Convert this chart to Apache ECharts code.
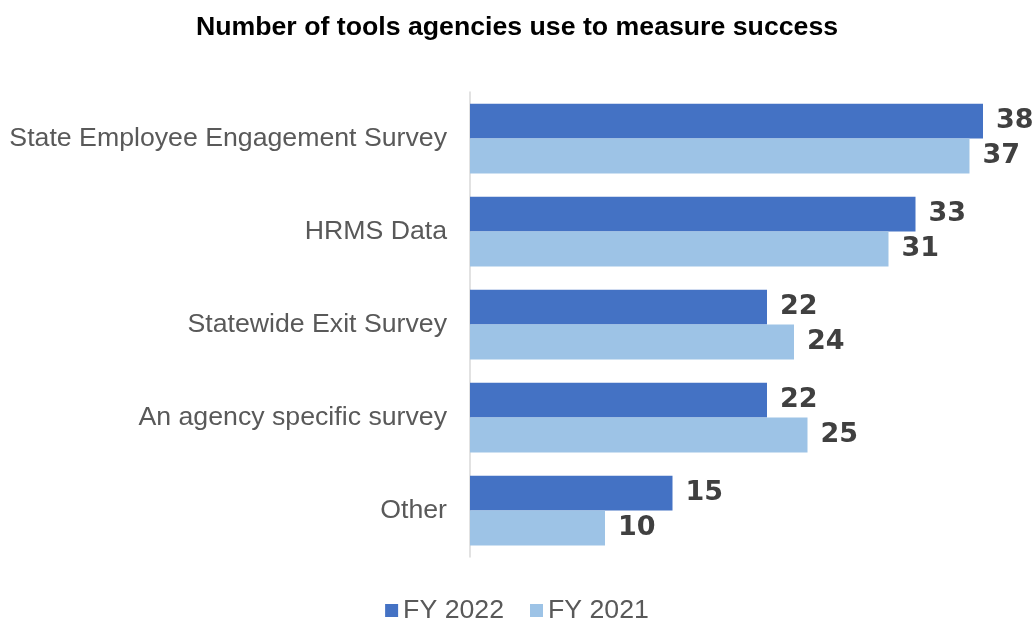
<!DOCTYPE html>
<html>
<head>
<meta charset="utf-8">
<script src="https://cdn.jsdelivr.net/npm/echarts@6/dist/echarts.min.js"></script>
<style>
  html, body { margin: 0; padding: 0; background: #ffffff; }
  #chart { width: 1034px; height: 619px; }
</style>
</head>
<body>
<div id="chart"></div>
<script>
// Survey tools used by agencies, counted per fiscal year
const categories = [
  'State Employee Engagement Survey',
  'HRMS Data',
  'Statewide Exit Survey',
  'An agency specific survey',
  'Other'
];
const fy2022 = [38, 33, 22, 22, 15];
const fy2021 = [37, 31, 24, 25, 10];
const seriesNames = ['FY 2022', 'FY 2021'];
const chartTitle = 'Number of tools agencies use to measure success';

const baseFont = '"Liberation Sans", Arial, sans-serif';

const valueLabel = {
  show: true,
  position: 'right',
  distance: 13,
  fontFamily: '"DejaVu Sans", sans-serif',
  fontWeight: 'bold',
  fontSize: 27,
  color: '#404040'
};

const chart = echarts.init(document.getElementById('chart'), null, { renderer: 'canvas' });
chart.setOption({
  animation: false,
  backgroundColor: '#ffffff',
  title: {
    text: chartTitle,
    left: 'center',
    top: 9,
    textStyle: {
      fontFamily: baseFont,
      fontSize: 26.7,
      fontWeight: 'bold',
      color: '#000000'
    }
  },
  legend: {
    data: seriesNames,
    left: 'center',
    top: 592,
    itemWidth: 13,
    itemHeight: 13,
    itemGap: 26,
    icon: 'rect',
    textStyle: {
      fontFamily: baseFont,
      fontSize: 26.7,
      color: '#595959'
    }
  },
  grid: {
    left: 470,
    right: 24,
    top: 92,
    height: 465,
    containLabel: false
  },
  xAxis: {
    type: 'value',
    min: 0,
    max: 40,
    show: false,
    splitLine: { show: false }
  },
  yAxis: {
    type: 'category',
    data: categories,
    inverse: true,
    axisLine: { show: true, lineStyle: { color: '#D9D9D9', width: 1.5 } },
    axisTick: { show: false },
    axisLabel: {
      fontFamily: baseFont,
      fontSize: 26.7,
      color: '#595959',
      margin: 23
    }
  },
  series: [
    {
      name: seriesNames[0],
      type: 'bar',
      data: fy2022,
      barGap: '0%',
      barCategoryGap: '25%',
      itemStyle: { color: '#4472C4' },
      label: valueLabel
    },
    {
      name: seriesNames[1],
      type: 'bar',
      data: fy2021,
      barGap: '0%',
      barCategoryGap: '25%',
      itemStyle: { color: '#9DC3E6' },
      label: valueLabel
    }
  ]
});
</script>
</body>
</html>
